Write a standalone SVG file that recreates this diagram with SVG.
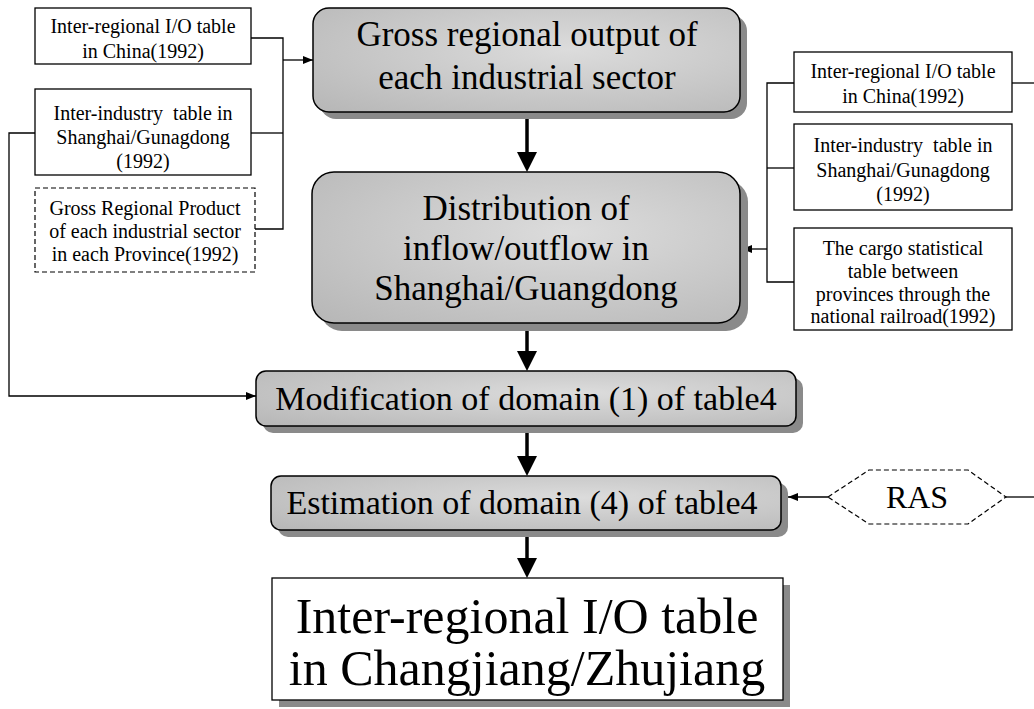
<svg xmlns="http://www.w3.org/2000/svg" width="1034" height="709" viewBox="0 0 1034 709">
<style>
.src{fill:#fff;stroke:#000;stroke-width:1.3}
.dash{fill:#fff;stroke:#000;stroke-width:1.2;stroke-dasharray:5 3}
.main{fill:url(#g);stroke:#000;stroke-width:1.5}
.sh{fill:#8a8a8a}
.t{font-family:"Liberation Serif","Times New Roman",serif;fill:#000;text-anchor:middle}
.s{font-size:20px;white-space:pre}
.m{font-size:35px}
.w{fill:none;stroke:#000;stroke-width:1.3}
.k{fill:none;stroke:#000;stroke-width:3.5}
</style>
<defs>
<radialGradient id="g" cx="0.6" cy="0.4" r="0.8">
<stop offset="0" stop-color="#dcdcdc"/>
<stop offset="1" stop-color="#b8b8b8"/>
</radialGradient>
<marker id="ah" viewBox="0 0 20 20" refX="10" refY="10" markerWidth="20" markerHeight="20" markerUnits="userSpaceOnUse" orient="auto">
<path d="M0,0 L20,10 L0,20 z" fill="#000"/>
</marker>
<marker id="as" viewBox="0 0 10 8" refX="10" refY="4" markerWidth="10" markerHeight="8" markerUnits="userSpaceOnUse" orient="auto">
<path d="M0,0 L10,4 L0,8 z" fill="#000"/>
</marker>
</defs>

<g id="connectors">
<polyline class="w" points="251,38 283,38 283,229 255,229"/>
<line class="w" x1="251" y1="133" x2="283" y2="133"/>
<line class="w" x1="283" y1="60" x2="313" y2="60" marker-end="url(#as)"/>
<polyline class="w" points="35,133 9,133 9,396 256,396" marker-end="url(#as)"/>
<polyline class="w" points="794,83 767,83 767,282 794,282"/>
<line class="w" x1="767" y1="168" x2="794" y2="168"/>
<line class="w" x1="767" y1="249" x2="742" y2="249" marker-end="url(#as)"/>
<line class="w" x1="1012" y1="83" x2="1034" y2="83"/>
<line class="w" x1="1006" y1="497" x2="1034" y2="497"/>
<line class="w" x1="828" y1="497" x2="788" y2="497" marker-end="url(#as)"/>
<line class="k" x1="527" y1="118" x2="527" y2="162" marker-end="url(#ah)"/>
<line class="k" x1="527" y1="330" x2="527" y2="361" marker-end="url(#ah)"/>
<line class="k" x1="527" y1="433" x2="527" y2="466" marker-end="url(#ah)"/>
<line class="k" x1="527" y1="537" x2="527" y2="568" marker-end="url(#ah)"/>
</g>

<g id="src-io-left">
<rect class="src" x="35" y="8" width="216" height="56"/>
<text class="t s" x="143" y="33">Inter-regional I/O table</text>
<text class="t s" x="143" y="58">in China(1992)</text>
</g>
<g id="src-industry-left">
<rect class="src" x="35" y="89" width="216" height="86"/>
<text class="t s" x="143" y="120">Inter-industry  table in</text>
<text class="t s" x="143" y="144">Shanghai/Gunagdong</text>
<text class="t s" x="143" y="168">(1992)</text>
</g>
<g id="src-grp">
<rect class="dash" x="35" y="188" width="220" height="84"/>
<text class="t s" x="145" y="215">Gross Regional Product</text>
<text class="t s" x="145" y="238">of each industrial sector</text>
<text class="t s" x="145" y="261">in each Province(1992)</text>
</g>

<g id="src-io-right">
<rect class="src" x="794" y="52" width="218" height="60"/>
<text class="t s" x="903" y="78">Inter-regional I/O table</text>
<text class="t s" x="903" y="103">in China(1992)</text>
</g>
<g id="src-industry-right">
<rect class="src" x="794" y="124" width="218" height="86"/>
<text class="t s" x="903" y="152">Inter-industry  table in</text>
<text class="t s" x="903" y="177">Shanghai/Gunagdong</text>
<text class="t s" x="903" y="201">(1992)</text>
</g>
<g id="src-cargo">
<rect class="src" x="794" y="228" width="218" height="102"/>
<text class="t s" x="903" y="255">The cargo statistical</text>
<text class="t s" x="903" y="278">table between</text>
<text class="t s" x="903" y="301">provinces through the</text>
<text class="t s" x="903" y="323">national railroad(1992)</text>
</g>

<g id="gross-output">
<rect class="sh" x="320" y="15" width="427" height="104" rx="16"/>
<rect class="main" x="313" y="8" width="427" height="104" rx="16"/>
<text class="t m" x="527" y="46">Gross regional output of</text>
<text class="t m" x="527" y="89">each industrial sector</text>
</g>
<g id="distribution">
<rect class="sh" x="320" y="180" width="428" height="151" rx="22"/>
<rect class="main" x="312" y="172" width="428" height="151" rx="22"/>
<text class="t m" x="526" y="220">Distribution of</text>
<text class="t m" x="526" y="260">inflow/outflow in</text>
<text class="t m" x="526" y="300">Shanghai/Guangdong</text>
</g>
<g id="modification">
<rect class="sh" x="263" y="378" width="540" height="55" rx="10"/>
<rect class="main" x="256" y="371" width="540" height="55" rx="10"/>
<text class="t" style="font-size:34px" x="526" y="410">Modification of domain (1) of table4</text>
</g>
<g id="estimation">
<rect class="sh" x="278" y="483" width="510" height="54" rx="10"/>
<rect class="main" x="271" y="476" width="510" height="54" rx="10"/>
<text class="t" style="font-size:34px" x="522" y="514">Estimation of domain (4) of table4</text>
</g>
<g id="ras">
<polygon class="dash" points="828,497 869,470 968,470 1006,497 968,524 869,524"/>
<text class="t" style="font-size:32px" x="917" y="508">RAS</text>
</g>
<g id="result">
<rect class="sh" x="279" y="585" width="511" height="122"/>
<rect class="src" x="272" y="578" width="511" height="122"/>
<text class="t" style="font-size:50px" x="527" y="633">Inter-regional I/O table</text>
<text class="t" style="font-size:50px" x="527" y="685">in Changjiang/Zhujiang</text>
</g>
</svg>
